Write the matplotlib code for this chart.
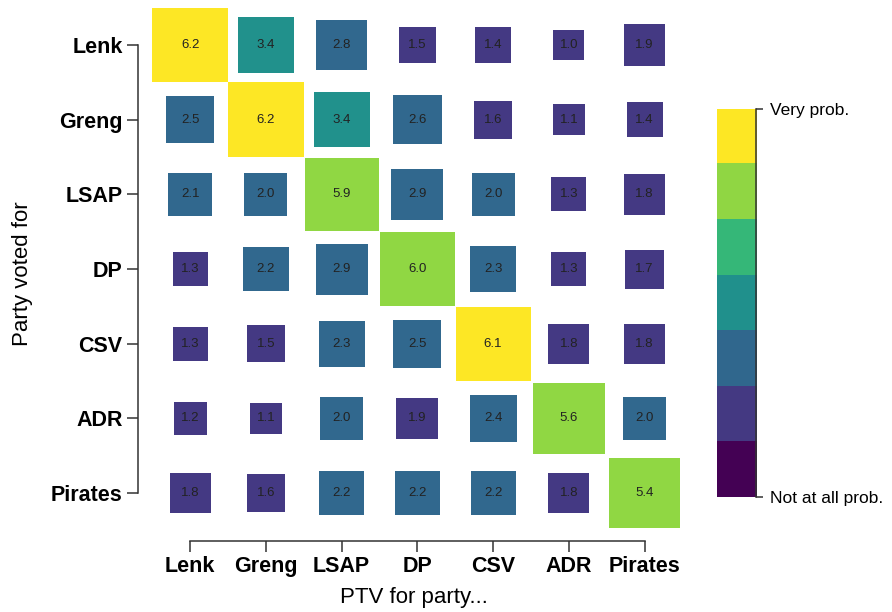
import numpy as np
import matplotlib
matplotlib.use("Agg")
import matplotlib.pyplot as plt
from matplotlib.patches import Rectangle

plt.rcParams['font.family'] = ['Liberation Sans', 'DejaVu Sans']

parties = ['Lenk', 'Greng', 'LSAP', 'DP', 'CSV', 'ADR', 'Pirates']

# rows: party voted for, columns: PTV for party
ptv_lenk = [6.2, 3.4, 2.8, 1.5, 1.4, 1.04, 1.9]
ptv_greng = [2.5, 6.2, 3.4, 2.6, 1.6, 1.1, 1.4]
ptv_lsap = [2.1, 2.0, 5.9, 2.9, 2.0, 1.3, 1.8]
ptv_dp = [1.3, 2.2, 2.9, 5.98, 2.3, 1.3, 1.7]
ptv_csv = [1.3, 1.5, 2.3, 2.5, 6.1, 1.8, 1.8]
ptv_adr = [1.2, 1.1, 2.0, 1.9, 2.4, 5.6, 2.0]
ptv_pirates = [1.8, 1.6, 2.2, 2.2, 2.2, 1.8, 5.4]

ptv = np.array([ptv_lenk, ptv_greng, ptv_lsap, ptv_dp, ptv_csv, ptv_adr, ptv_pirates])

cmap = plt.get_cmap('viridis', 7)
vmax = ptv.max()

fig = plt.figure(figsize=(8.92, 6.12), dpi=100)
ax = fig.add_axes([0.1547, 0.116, 0.6188, 0.874])

for i in range(len(parties)):
    for j in range(len(parties)):
        v = ptv[i, j]
        side = np.sqrt(v / vmax)
        color = cmap(int(np.clip(np.floor(v), 0, 6)))
        ax.add_patch(Rectangle((j - side / 2, i - side / 2), side, side,
                               facecolor=color, edgecolor='none'))
        ax.text(j, i, f'{v:.1f}', ha='center', va='center', fontsize=9.5, color='#222222')

ax.set_xlim(-0.69, 6.6)
ax.set_ylim(6.64, -0.52)

ax.set_xticks(range(len(parties)))
ax.set_xticklabels(parties, fontsize=15.5, fontweight='bold')
ax.set_yticks(range(len(parties)))
ax.set_yticklabels(parties, fontsize=15.5, fontweight='bold')
ax.tick_params(length=8, width=1.1, color='#333333', pad=3)

for s in ['top', 'right']:
    ax.spines[s].set_visible(False)
for s in ['left', 'bottom']:
    ax.spines[s].set_bounds(0, 6)
    ax.spines[s].set_color('#333333')
    ax.spines[s].set_linewidth(1.1)

ax.set_xlabel('PTV for party...', fontsize=16, labelpad=7)
ax.set_ylabel('Party voted for', fontsize=16, labelpad=13)

# discrete colour key
cax = fig.add_axes([0.804, 0.188, 0.044, 0.634])
cax.imshow(np.arange(7)[::-1].reshape(-1, 1), cmap=cmap, aspect='auto',
           extent=[0, 1, 0, 7], vmin=-0.5, vmax=6.5)
cax.set_xticks([])
cax.set_yticks([0, 7])
cax.set_yticklabels(['Not at all prob.', 'Very prob.'], fontsize=12.5)
cax.yaxis.tick_right()
cax.tick_params(axis='y', length=5, width=1.1, color='#333333', pad=5)
for s in ['top', 'left', 'bottom']:
    cax.spines[s].set_visible(False)
cax.spines['right'].set_color('#333333')
cax.spines['right'].set_linewidth(1.1)

fig.savefig('out.png', dpi=100)
plt.close(fig)
